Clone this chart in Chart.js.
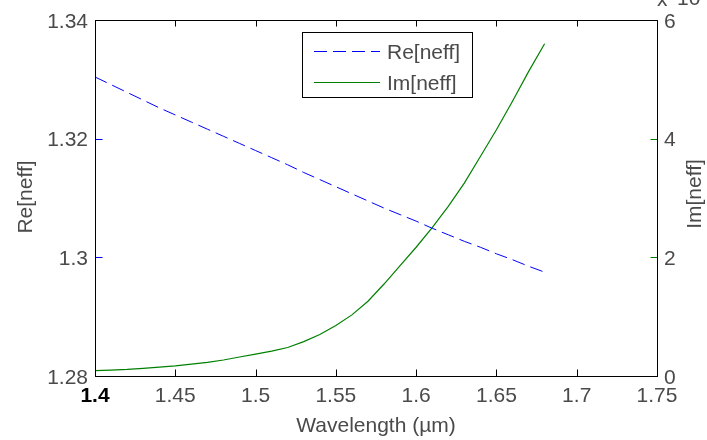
<!DOCTYPE html>
<html>
<head>
<meta charset="utf-8">
<script src="https://cdn.jsdelivr.net/npm/chart.js@4"></script>
<style>
    html, body { margin: 0; padding: 0; background: #ffffff; }
    canvas { display: block; }
</style>
</head>
<body>
<canvas id="chart" width="707" height="440"></canvas>
<script>
// values
const wavelength = [1.40, 1.41, 1.42, 1.43, 1.44, 1.45, 1.46, 1.47, 1.48, 1.49,
    1.50, 1.51, 1.52, 1.53, 1.54, 1.55, 1.56, 1.57, 1.58, 1.59,
    1.60, 1.61, 1.62, 1.63, 1.64, 1.65, 1.66, 1.67, 1.68];
const reNeff = [1.3304, 1.3291, 1.3278, 1.3265, 1.3252, 1.3240, 1.3228, 1.3216, 1.3204, 1.3192,
    1.3180, 1.3168, 1.3156, 1.3143, 1.3131, 1.3119, 1.3107, 1.3095, 1.3083, 1.3072,
    1.3061, 1.3049, 1.3038, 1.3027, 1.3017, 1.3006, 1.2996, 1.2985, 1.2975];
const imNeff = [0.09, 0.10, 0.11, 0.13, 0.15, 0.17, 0.20, 0.23, 0.27, 0.32,
    0.37, 0.42, 0.48, 0.58, 0.70, 0.85, 1.03, 1.26, 1.55, 1.86,
    2.17, 2.50, 2.86, 3.25, 3.70, 4.15, 4.63, 5.13, 5.60];

const xTicks = [1.4, 1.45, 1.5, 1.55, 1.6, 1.65, 1.7, 1.75];
const xTickLabels = ["1.4", "1.45", "1.5", "1.55", "1.6", "1.65", "1.7", "1.75"];
const reTicks = [1.28, 1.3, 1.32, 1.34];
const reTickLabels = ["1.28", "1.3", "1.32", "1.34"];
const imTicks = [0, 2, 4, 6];
const imTickLabels = ["0", "2", "4", "6"];

const seriesNames = ["Re[neff]", "Im[neff]"];
const xTitle = "Wavelength (\u00b5m)";

const FONT = "21px 'Liberation Sans', Arial, sans-serif";
const TEXT = "#4a4a4a";

const axesPlugin = {
    id: "matlabAxes",
    afterDraw(chart) {
        const ctx = chart.ctx;
        const area = chart.chartArea;
        const x = chart.scales.x;
        const yRe = chart.scales.yRe;
        const yIm = chart.scales.yIm;

        ctx.save();
        ctx.lineWidth = 1;

        // ticks, pointing inward
        const tick = (x0, y0, x1, y1, color) => {
            ctx.strokeStyle = color;
            ctx.beginPath();
            ctx.moveTo(Math.round(x0) + 0.5, Math.round(y0) + 0.5);
            ctx.lineTo(Math.round(x1) + 0.5, Math.round(y1) + 0.5);
            ctx.stroke();
        };
        xTicks.forEach((v) => {
            const px = x.getPixelForValue(v);
            tick(px, area.bottom, px, area.bottom - 7, "#000");
            tick(px, area.top, px, area.top + 6, "#000");
        });
        reTicks.forEach((v) => {
            const py = yRe.getPixelForValue(v);
            tick(area.left, py, area.left + 7, py, "#0000ff");
        });
        imTicks.forEach((v) => {
            const py = yIm.getPixelForValue(v);
            tick(area.right, py, area.right - 7, py, "#008000");
        });

        // box
        ctx.strokeStyle = "#000";
        ctx.strokeRect(Math.round(area.left) + 0.5, Math.round(area.top) + 0.5,
            Math.round(area.right - area.left), Math.round(area.bottom - area.top));

        // tick labels
        ctx.font = FONT;
        ctx.fillStyle = TEXT;
        ctx.textBaseline = "alphabetic";
        ctx.textAlign = "center";
        xTicks.forEach((v, i) => {
            const px = x.getPixelForValue(v);
            if (i === 0) {
                ctx.save();
                ctx.font = "bold " + FONT;
                ctx.fillStyle = "#000";
                ctx.fillText(xTickLabels[i], px, 402);
                ctx.restore();
            } else {
                ctx.fillText(xTickLabels[i], px, 402);
            }
        });
        ctx.textAlign = "right";
        reTicks.forEach((v, i) => {
            ctx.fillText(reTickLabels[i], area.left - 7, yRe.getPixelForValue(v) + 7.5);
        });
        ctx.textAlign = "left";
        imTicks.forEach((v, i) => {
            ctx.fillText(imTickLabels[i], area.right + 7, yIm.getPixelForValue(v) + 7.5);
        });

        // exponent, cut by the top edge like in the original
        ctx.fillText("x", area.right, 6);
        ctx.fillText("10", area.right + 20, 5);

        // axis titles
        ctx.textAlign = "center";
        ctx.fillText(xTitle, (area.left + area.right) / 2, 432);
        ctx.save();
        ctx.translate(32, 197);
        ctx.rotate(-Math.PI / 2);
        ctx.fillText(seriesNames[0], 0, 0);
        ctx.restore();
        ctx.save();
        ctx.translate(701, 194);
        ctx.rotate(-Math.PI / 2);
        ctx.fillText(seriesNames[1], 0, 0);
        ctx.restore();

        // legend
        const lx = 302, ly = 32, lw = 170, lh = 65;
        ctx.fillStyle = "#fff";
        ctx.fillRect(lx, ly, lw, lh);
        ctx.strokeStyle = "#000";
        ctx.strokeRect(lx + 0.5, ly + 0.5, lw, lh);
        ctx.strokeStyle = "#0000ff";
        ctx.setLineDash([13, 6]);
        ctx.beginPath();
        ctx.moveTo(314, 51.5);
        ctx.lineTo(380, 51.5);
        ctx.stroke();
        ctx.setLineDash([]);
        ctx.strokeStyle = "#008000";
        ctx.beginPath();
        ctx.moveTo(314, 82.5);
        ctx.lineTo(380, 82.5);
        ctx.stroke();
        ctx.fillStyle = TEXT;
        ctx.textAlign = "left";
        ctx.fillText(seriesNames[0], 387, 59);
        ctx.fillText(seriesNames[1], 387, 90);

        ctx.restore();
    },
};

new Chart(document.getElementById("chart"), {
    type: "line",
    data: {
        datasets: [
            {
                label: seriesNames[0],
                data: wavelength.map((w, i) => ({ x: w, y: reNeff[i] })),
                yAxisID: "yRe",
                borderColor: "#0000ff",
                borderWidth: 1,
                borderDash: [13, 6],
                pointRadius: 0,
                tension: 0,
                fill: false,
            },
            {
                label: seriesNames[1],
                data: wavelength.map((w, i) => ({ x: w, y: imNeff[i] })),
                yAxisID: "yIm",
                borderColor: "#008000",
                borderWidth: 1.2,
                pointRadius: 0,
                tension: 0,
                fill: false,
            },
        ],
    },
    options: {
        responsive: false,
        animation: false,
        layout: {
            padding: { left: 95, right: 50, top: 20, bottom: 64 },
        },
        plugins: {
            legend: { display: false },
            tooltip: { enabled: false },
        },
        scales: {
            x: { type: "linear", display: false, min: 1.4, max: 1.75 },
            yRe: { type: "linear", display: false, position: "left", min: 1.28, max: 1.34 },
            yIm: { type: "linear", display: false, position: "right", min: 0, max: 6 },
        },
    },
    plugins: [axesPlugin],
});
</script>
</body>
</html>
